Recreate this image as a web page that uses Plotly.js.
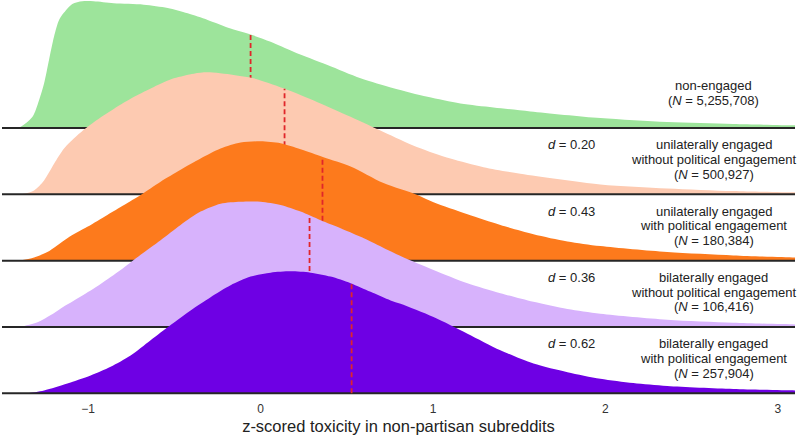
<!DOCTYPE html>
<html>
<head>
<meta charset="utf-8">
<script src="https://cdn.plot.ly/plotly-3.0.1.min.js"></script>
<style>html,body{margin:0;padding:0;background:#fff;}#chart{width:800px;height:436px;}</style>
</head>
<body>
<div id="chart"></div>
<script>
// ---- data (x = z-scored toxicity, h = density height in ridge units) ----
const greenX = [-1.426,-1.391,-1.323,-1.285,-1.256,-1.227,-1.198,-1.169,-1.140,-1.092,-1.034,-0.968,-0.852,-0.678,-0.539,-0.423,-0.307,-0.174,-0.058,0.058,0.191,0.388,0.580,0.771,0.968,1.159,1.351,1.565,1.971,2.359,2.742,3.101];
const greenH = [0,0.02,0.17,0.42,0.67,1.03,1.38,1.63,1.74,1.87,1.91,1.91,1.88,1.86,1.81,1.73,1.63,1.50,1.41,1.30,1.15,0.95,0.75,0.60,0.47,0.37,0.31,0.25,0.15,0.09,0.06,0.04];

const peachX = [-1.391,-1.314,-1.256,-1.198,-1.140,-1.063,-0.966,-0.850,-0.734,-0.619,-0.503,-0.387,-0.309,-0.157,-0.041,0.133,0.330,0.522,0.713,0.910,1.101,1.293,1.507,1.971,2.359,2.742,3.101];
const peachH = [0,0.06,0.21,0.46,0.69,0.89,1.09,1.29,1.47,1.62,1.75,1.82,1.84,1.80,1.75,1.60,1.39,1.17,0.94,0.71,0.54,0.41,0.31,0.15,0.09,0.05,0.03];

const orangeX = [-1.403,-1.314,-1.237,-1.121,-1.005,-0.889,-0.792,-0.696,-0.580,-0.464,-0.348,-0.232,-0.116,0,0.116,0.232,0.365,0.522,0.713,0.910,1.003,1.200,1.391,1.583,1.780,1.971,2.359,2.742,3.101];
const orangeH = [0,0.05,0.13,0.34,0.51,0.69,0.84,0.99,1.19,1.37,1.54,1.69,1.78,1.80,1.77,1.68,1.56,1.42,1.17,0.99,0.88,0.70,0.54,0.40,0.29,0.22,0.13,0.08,0.05];

const lavenderX = [-1.420,-1.391,-1.287,-1.217,-1.159,-1.043,-0.928,-0.812,-0.696,-0.580,-0.464,-0.348,-0.232,-0.116,0,0.116,0.232,0.348,0.464,0.580,0.812,1.003,1.200,1.391,1.583,1.780,1.971,2.359,2.742,3.101];
const lavenderH = [0,0.005,0.08,0.18,0.28,0.46,0.65,0.86,1.09,1.31,1.54,1.74,1.86,1.89,1.89,1.84,1.74,1.61,1.49,1.36,1.07,0.86,0.66,0.51,0.38,0.27,0.20,0.11,0.065,0.04];

const purpleX = [-1.391,-1.352,-1.256,-1.121,-0.986,-0.870,-0.754,-0.638,-0.522,-0.406,-0.290,-0.174,-0.058,0.058,0.174,0.290,0.406,0.522,0.638,0.754,0.812,1.003,1.200,1.391,1.583,1.780,1.971,2.162,2.359,2.742,3.101];
const purpleH = [0,0.003,0.045,0.15,0.27,0.40,0.57,0.80,1.03,1.25,1.45,1.63,1.76,1.82,1.84,1.82,1.76,1.66,1.53,1.40,1.35,1.15,0.90,0.65,0.45,0.32,0.22,0.155,0.11,0.065,0.045];

const meanToxicity = [-0.058, 0.139, 0.359, 0.284, 0.528];
const groupLine1 = ["non-engaged", "unilaterally engaged", "unilaterally engaged", "bilaterally engaged", "bilaterally engaged"];
const groupLine2 = ["", "without political engagement", "with political engagement", "without political engagement", "with political engagement"];
const groupN = ["5,255,708", "500,927", "180,384", "106,416", "257,904"];
const cohenD = ["", "0.20", "0.43", "0.36", "0.62"];
const tickVals = [-1, 0, 1, 2, 3];
const tickText = ["\u22121", "0", "1", "2", "3"];
const colors = ["#9de49b", "#fdcab1", "#fd7a1c", "#d7b2fc", "#6e00e4"];

// ---- build ----
const seriesX = [greenX, peachX, orangeX, lavenderX, purpleX];
const seriesH = [greenH, peachH, orangeH, lavenderH, purpleH];
const nRidge = seriesX.length;
const X0 = -1.5, X1 = 3.1;

function interp(xs, hs, x) {
  for (let i = 0; i < xs.length - 1; i++) {
    if (x >= xs[i] && x <= xs[i + 1]) {
      const t = (x - xs[i]) / (xs[i + 1] - xs[i]);
      return hs[i] + t * (hs[i + 1] - hs[i]);
    }
  }
  return 0;
}

const traces = [];
const annotations = [];
const font = "Liberation Sans, Arial, Helvetica, sans-serif";
for (let i = 0; i < nRidge; i++) {
  const base = nRidge - 1 - i;
  const xs = seriesX[i], hs = seriesH[i];
  const px = xs.concat([xs[xs.length - 1] + 0.05, xs[xs.length - 1] + 0.05]);
  const py = hs.map(h => base + h).concat([base + hs[hs.length - 1], base]);
  traces.push({
    type: "scatter", mode: "lines", x: px, y: py,
    fill: "toself", fillcolor: colors[i],
    line: {width: 0, shape: "spline", smoothing: 0.8, color: colors[i]},
    hoverinfo: "skip", showlegend: false
  });
  traces.push({
    type: "scatter", mode: "lines", x: [X0, X1], y: [base, base],
    line: {width: 2, color: "#262626"}, hoverinfo: "skip", showlegend: false
  });
  const m = meanToxicity[i];
  traces.push({
    type: "scatter", mode: "lines", x: [m, m], y: [base, base + interp(xs, hs, m)],
    line: {width: 1.8, color: "#e0262a", dash: "5px,3px"}, hoverinfo: "skip", showlegend: false
  });

  const lines = [groupLine1[i]];
  if (groupLine2[i]) lines.push(groupLine2[i]);
  lines.push("(<i>N</i> = " + groupN[i] + ")");
  const step = 0.22, center = 0.525;
  lines.forEach((txt, k) => {
    annotations.push({
      x: 2.63, y: base + center + (lines.length - 1) / 2 * step - k * step,
      xref: "x", yref: "y", text: txt, showarrow: false,
      xanchor: "center", yanchor: "middle",
      font: {family: font, size: 13, color: "#222"}
    });
  });
  if (cohenD[i]) {
    annotations.push({
      x: 1.806, y: base + center + step, xref: "x", yref: "y",
      text: "<i>d</i> = " + cohenD[i], showarrow: false,
      xanchor: "center", yanchor: "middle",
      font: {family: font, size: 13, color: "#222"}
    });
  }
}

const layout = {
  width: 800, height: 436,
  margin: {l: 2, r: 5, t: 0, b: 36},
  paper_bgcolor: "#fff", plot_bgcolor: "#fff",
  showlegend: false,
  xaxis: {
    range: [X0, X1], showgrid: false, zeroline: false, showline: false,
    ticks: "", tickvals: tickVals, ticktext: tickText,
    tickfont: {family: font, size: 12, color: "#333"},
    title: {text: "z-scored toxicity in non-partisan subreddits", font: {family: font, size: 16.5, color: "#222"}, standoff: 5}
  },
  yaxis: {range: [-0.1, 5.93], showgrid: false, zeroline: false, showline: false, showticklabels: false, ticks: "", fixedrange: true},
  annotations: annotations
};

Plotly.newPlot("chart", traces, layout, {staticPlot: true, displayModeBar: false});
</script>
</body>
</html>
